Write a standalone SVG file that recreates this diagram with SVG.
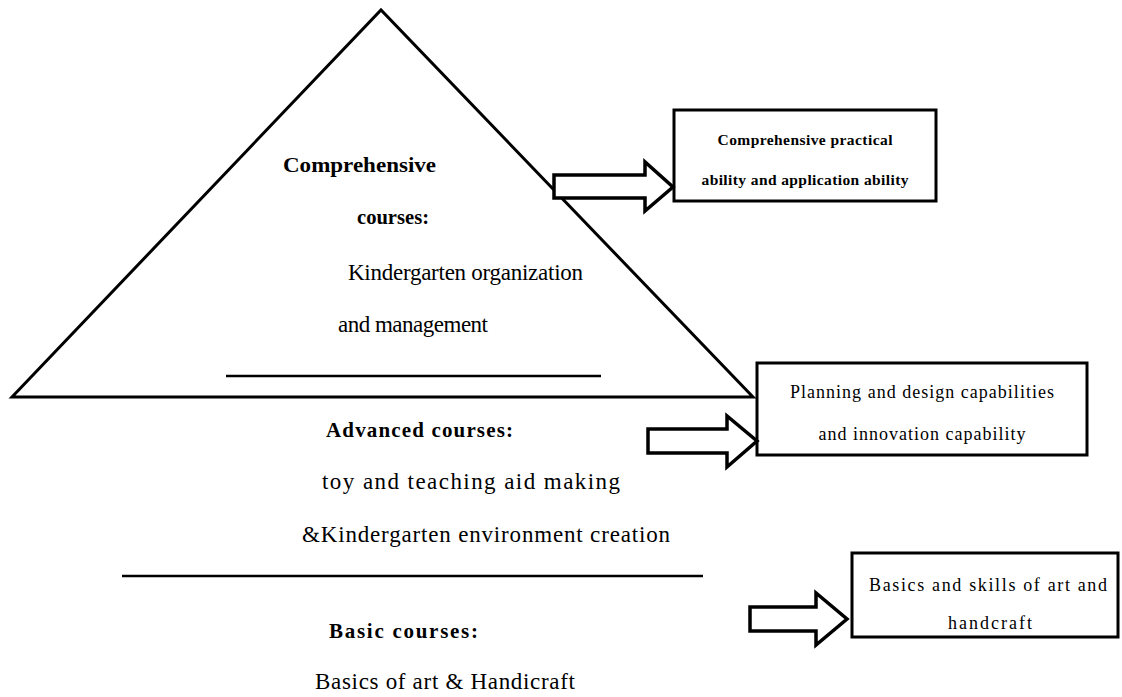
<svg xmlns="http://www.w3.org/2000/svg" width="1122" height="697" viewBox="0 0 1122 697">
<style>
.shape{fill:#fff;stroke:#000;stroke-width:3}
.ln{stroke:#000;stroke-width:2.5}
.arr{fill:#fff;stroke:#000;stroke-width:3.5;stroke-linejoin:miter}
.box{fill:#fff;stroke:#000;stroke-width:3}
.t{font-family:"Liberation Serif","Times New Roman",serif;fill:#000}
.hb{font-size:21px;font-weight:bold}
.hr{font-size:23px}
.bx{font-size:18px;text-anchor:middle}
.bxb{font-size:15.5px;font-weight:bold;text-anchor:middle}
</style>
<rect width="1122" height="697" fill="#fff"/>
<g id="pyramid">
<polygon class="shape" points="12,397 381,10 753,397"/>
<line class="ln" x1="226" y1="376" x2="601" y2="376"/>
<text class="t hb" x="283" y="172" textLength="153" lengthAdjust="spacingAndGlyphs">Comprehensive</text>
<text class="t hb" x="357" y="224" textLength="72" lengthAdjust="spacingAndGlyphs">courses:</text>
<text class="t hr" x="348" y="280" textLength="235">Kindergarten organization</text>
<text class="t hr" x="338" y="332" textLength="150">and management</text>
</g>
<g id="advanced">
<text class="t hb" x="326" y="437" textLength="187">Advanced courses:</text>
<text class="t hr" x="322" y="489" textLength="298">toy and teaching aid making</text>
<text class="t hr" x="302" y="542" textLength="368">&amp;Kindergarten environment creation</text>
<line class="ln" x1="122" y1="576" x2="703" y2="576"/>
</g>
<g id="basic">
<text class="t hb" x="329" y="638" textLength="149">Basic courses:</text>
<text class="t hr" x="315" y="689" textLength="260">Basics of art &amp; Handicraft</text>
</g>
<g id="box1">
<rect class="box" x="674" y="110" width="262" height="91"/>
<text class="t bxb" x="805" y="145" textLength="175">Comprehensive practical</text>
<text class="t bxb" x="805" y="185" textLength="207">ability and application ability</text>
</g>
<g id="box2">
<rect class="box" x="757" y="363" width="330" height="92"/>
<text class="t bx" x="922" y="398" textLength="264">Planning and design capabilities</text>
<text class="t bx" x="922" y="440" textLength="207">and innovation capability</text>
</g>
<g id="box3">
<rect class="box" x="852" y="553" width="266" height="84"/>
<text class="t bx" x="988" y="591" textLength="238">Basics and skills of art and</text>
<text class="t bx" x="990" y="629" textLength="84">handcraft</text>
</g>
<g id="connectors">
<polygon class="arr" points="554,175 645,175 645,162 673,187 645,211 645,198 554,198"/>
<polygon class="arr" points="648,429 727,429 727,416 757,441 727,467 727,453 648,453"/>
<polygon class="arr" points="750,607 816,607 816,593 847,619 816,645 816,631 750,631"/>
</g>
</svg>
